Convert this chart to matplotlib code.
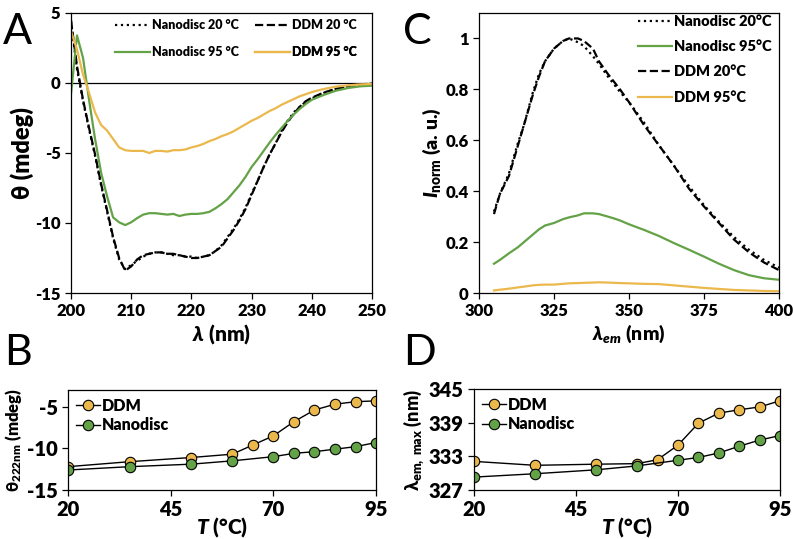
import matplotlib
matplotlib.use("Agg")
import matplotlib.pyplot as plt

plt.rcParams['font.family'] = ['Lato', 'DejaVu Sans']
plt.rcParams['font.weight'] = 'heavy'
plt.rcParams['axes.labelweight'] = 'heavy'
plt.rcParams['axes.unicode_minus'] = False
plt.rcParams['mathtext.fontset'] = 'custom'
plt.rcParams['mathtext.rm'] = 'Lato:heavy'
plt.rcParams['mathtext.bf'] = 'Lato:heavy'
plt.rcParams['mathtext.it'] = 'Lato:italic:heavy'
plt.rcParams['mathtext.default'] = 'bf'

GREEN = "#63a246"
GOLD = "#ebb84c"

# Panel A: CD spectra
wl_cd = [200, 201, 202, 203, 204, 205, 206, 207, 208, 209, 210, 211, 212, 213, 214, 215,
         216, 217, 218, 219, 220, 221, 222, 223, 224, 225, 226, 227, 228, 229, 230, 231,
         232, 233, 234, 235, 236, 237, 238, 239, 240, 242, 244, 246, 248, 250]
cd_nd20 = [4.4, 1.0, -1.3, -3.3, -5.2, -7.3, -9.2, -11.1, -12.6, -13.3, -13.0, -12.7, -12.4,
           -12.2, -12.1, -12.1, -12.2, -12.3, -12.3, -12.4, -12.4, -12.5, -12.4, -12.3, -12.0,
           -11.6, -11.0, -10.4, -9.7, -8.9, -7.9, -7.0, -6.0, -5.1, -4.3, -3.4, -2.7, -2.1,
           -1.7, -1.35, -1.1, -0.7, -0.43, -0.24, -0.1, -0.05]
cd_ddm20 = [4.5, 1.2, -1.2, -3.2, -5.1, -7.2, -9.1, -11.0, -12.5, -13.4, -13.1, -12.6, -12.3,
            -12.2, -12.1, -12.1, -12.2, -12.2, -12.3, -12.4, -12.5, -12.5, -12.4, -12.3, -12.0,
            -11.7, -11.1, -10.5, -9.8, -9.0, -8.0, -7.0, -6.0, -5.1, -4.3, -3.5, -2.8, -2.2,
            -1.7, -1.3, -1.05, -0.68, -0.42, -0.22, -0.1, -0.05]
cd_nd95 = [-0.8, 3.4, 1.8, -1.2, -4.0, -6.4, -8.1, -9.6, -9.95, -10.15, -9.95, -9.65, -9.4,
           -9.3, -9.3, -9.35, -9.4, -9.35, -9.5, -9.4, -9.35, -9.35, -9.3, -9.2, -8.95, -8.65,
           -8.3, -7.8, -7.3, -6.7, -6.0, -5.45, -4.85, -4.25, -3.7, -3.2, -2.7, -2.25, -1.85,
           -1.5, -1.2, -0.85, -0.55, -0.36, -0.24, -0.19]
cd_ddm95 = [3.7, 2.4, 0.6, -0.7, -2.1, -3.0, -3.4, -4.0, -4.6, -4.8, -4.85, -4.85, -4.85,
            -5.0, -4.85, -4.85, -4.9, -4.8, -4.8, -4.75, -4.6, -4.5, -4.35, -4.15, -4.0, -3.8,
            -3.65, -3.45, -3.2, -2.95, -2.7, -2.5, -2.25, -2.0, -1.8, -1.55, -1.35, -1.15,
            -0.95, -0.8, -0.65, -0.43, -0.26, -0.17, -0.1, -0.07]

# Panel C: fluorescence emission
wl_em = [305, 307, 310, 313, 315, 318, 320, 322, 325, 328, 330, 333, 335, 338, 340, 343,
         345, 347, 350, 355, 360, 365, 370, 375, 380, 385, 390, 395, 400]
fl_nd20 = [0.32, 0.39, 0.47, 0.59, 0.66, 0.79, 0.86, 0.91, 0.96, 0.99, 1.0, 0.985, 0.97,
           0.93, 0.90, 0.85, 0.82, 0.79, 0.75, 0.67, 0.58, 0.50, 0.42, 0.345, 0.28, 0.22,
           0.17, 0.13, 0.10]
fl_ddm20 = [0.31, 0.39, 0.46, 0.58, 0.66, 0.78, 0.85, 0.91, 0.96, 0.99, 1.0, 1.0, 0.99,
            0.96, 0.91, 0.86, 0.83, 0.80, 0.75, 0.66, 0.58, 0.50, 0.41, 0.34, 0.275, 0.21,
            0.16, 0.12, 0.09]
fl_nd95 = [0.115, 0.13, 0.156, 0.18, 0.20, 0.23, 0.25, 0.265, 0.275, 0.29, 0.297, 0.305,
           0.313, 0.313, 0.31, 0.30, 0.293, 0.285, 0.27, 0.248, 0.224, 0.196, 0.17, 0.143,
           0.115, 0.09, 0.07, 0.058, 0.052]
fl_ddm95 = [0.01, 0.013, 0.017, 0.022, 0.025, 0.03, 0.032, 0.033, 0.033, 0.036, 0.038,
            0.039, 0.04, 0.041, 0.042, 0.041, 0.04, 0.039, 0.038, 0.036, 0.035, 0.03, 0.025,
            0.02, 0.016, 0.012, 0.01, 0.008, 0.007]

# Panels B and D: thermal melts
temp_ddm = [20, 35, 50, 60, 65, 70, 75, 80, 85, 90, 95]
temp_nd = [20, 35, 50, 60, 70, 75, 80, 85, 90, 95]
theta_ddm = [-12.2, -11.6, -11.1, -10.7, -9.6, -8.5, -6.8, -5.4, -4.7, -4.4, -4.3]
theta_nd = [-12.6, -12.2, -11.9, -11.5, -11.0, -10.6, -10.4, -10.1, -9.8, -9.3]
lmax_ddm = [332.1, 331.4, 331.6, 331.7, 332.4, 335.0, 338.9, 340.7, 341.3, 341.8, 342.9]
lmax_nd = [329.3, 329.9, 330.6, 331.3, 332.3, 332.8, 333.6, 334.8, 335.9, 336.7]

ticks_A_x = [200, 210, 220, 230, 240, 250]
ticks_A_y = [-15, -10, -5, 0, 5]
ticks_C_x = [300, 325, 350, 375, 400]
ticks_C_y = [0, 0.2, 0.4, 0.6, 0.8, 1]
labels_C_y = ['0', '0.2', '0.4', '0.6', '0.8', '1']
ticks_T = [20, 45, 70, 95]
ticks_B_y = [-15, -10, -5]
ticks_D_y = [327, 333, 339, 345]

fig = plt.figure(figsize=(7.93, 5.39), dpi=100)
axA = fig.add_axes([0.0895, 0.4564, 0.3796, 0.5195])
axC = fig.add_axes([0.604, 0.4564, 0.3783, 0.5195])
axB = fig.add_axes([0.0858, 0.0909, 0.3884, 0.1855])
axD = fig.add_axes([0.5977, 0.0909, 0.3859, 0.1874])

for ax in (axA, axB, axC, axD):
    for s in ax.spines.values():
        s.set_linewidth(0.9)
    ax.tick_params(direction='out', length=4, width=0.9)

# --- A ---
axA.axhline(0, color='black', lw=0.9)
lA1, = axA.plot(wl_cd, cd_nd20, color='black', ls=':', lw=1.6, label='Nanodisc 20 °C')
lA2, = axA.plot(wl_cd, cd_ddm20, color='black', ls='--', lw=1.6, label='DDM 20 °C')
lA3, = axA.plot(wl_cd, cd_nd95, color=GREEN, lw=1.6, label='Nanodisc 95 °C')
lA4, = axA.plot(wl_cd, cd_ddm95, color=GOLD, lw=1.6, label='DDM 95 °C')
axA.set_xlim(200, 250)
axA.set_ylim(-15, 5)
axA.set_xticks(ticks_A_x, [str(t) for t in ticks_A_x], fontsize=12, fontweight='heavy')
axA.set_yticks(ticks_A_y, [str(t) for t in ticks_A_y], fontsize=12, fontweight='heavy')
axA.set_xlabel(r'$\mathit{\lambda}$ (nm)', fontsize=15, labelpad=2)
axA.set_ylabel('θ (mdeg)', fontsize=17, labelpad=1)

# 2x2 legend, one entry per legend box so the columns line up exactly
leg_kw = dict(fontsize=9, frameon=False, handlelength=2.8, handletextpad=0.15,
              borderaxespad=0.0, borderpad=0.0, loc='center left')
legend_slots = [(lA1, 0.146, 0.957), (lA2, 0.611, 0.957),
                (lA3, 0.146, 0.861), (lA4, 0.611, 0.861)]
for line, lx, ly in legend_slots:
    leg = axA.legend([line], [line.get_label()], bbox_to_anchor=(lx, ly), **leg_kw)
    axA.add_artist(leg)

# --- C ---
axC.plot(wl_em, fl_nd20, color='black', ls=':', lw=1.6, label='Nanodisc 20°C')
axC.plot(wl_em, fl_nd95, color=GREEN, lw=1.6, label='Nanodisc 95°C')
axC.plot(wl_em, fl_ddm20, color='black', ls='--', lw=1.6, label='DDM 20°C')
axC.plot(wl_em, fl_ddm95, color=GOLD, lw=1.6, label='DDM 95°C')
axC.set_xlim(300, 400)
axC.set_ylim(0, 1.1)
axC.set_xticks(ticks_C_x, [str(t) for t in ticks_C_x], fontsize=12, fontweight='heavy')
axC.set_yticks(ticks_C_y, labels_C_y, fontsize=12, fontweight='heavy')
axC.set_xlabel(r'$\mathit{\lambda_{em}}$ (nm)', fontsize=14, labelpad=2)
axC.set_ylabel(r'$\mathit{I}_{\mathrm{norm}}$ (a. u.)', fontsize=14, labelpad=2)
axC.legend(loc='upper right', bbox_to_anchor=(1.0, 1.02), fontsize=10.5, frameon=False,
           handlelength=2.3, handletextpad=0.15, borderaxespad=0.1, labelspacing=0.85)

# --- B ---
axB.plot(temp_ddm, theta_ddm, color='black', lw=1.0, marker='o', ms=7.5,
         mfc=GOLD, mec='black', mew=0.8, label='DDM')
axB.plot(temp_nd, theta_nd, color='black', lw=1.0, marker='o', ms=7.5,
         mfc=GREEN, mec='black', mew=0.8, label='Nanodisc')
axB.set_xlim(20, 95)
axB.set_ylim(-15, -3)
axB.set_xticks(ticks_T, [str(t) for t in ticks_T], fontsize=14.5, fontweight='heavy')
axB.set_yticks(ticks_B_y, [str(t) for t in ticks_B_y], fontsize=14.5, fontweight='heavy')
axB.set_xlabel(r'$\mathit{T}$ (°C)', fontsize=15, labelpad=-3)
axB.set_ylabel(r'θ$_{222nm}$ (mdeg)', fontsize=12, labelpad=2)
axB.legend(loc='upper left', fontsize=11.5, frameon=False, handlelength=1.5,
           handletextpad=0.1, borderaxespad=0.1, labelspacing=0.2)

# --- D ---
axD.plot(temp_ddm, lmax_ddm, color='black', lw=1.0, marker='o', ms=7.5,
         mfc=GOLD, mec='black', mew=0.8, label='DDM')
axD.plot(temp_nd, lmax_nd, color='black', lw=1.0, marker='o', ms=7.5,
         mfc=GREEN, mec='black', mew=0.8, label='Nanodisc')
axD.set_xlim(20, 95)
axD.set_ylim(327, 345)
axD.set_xticks(ticks_T, [str(t) for t in ticks_T], fontsize=14.5, fontweight='heavy')
axD.set_yticks(ticks_D_y, [str(t) for t in ticks_D_y], fontsize=14.5, fontweight='heavy')
axD.set_xlabel(r'$\mathit{T}$ (°C)', fontsize=15, labelpad=-3)
axD.set_ylabel(r'λ$_{em,\ max}$ (nm)', fontsize=13, labelpad=1)
axD.legend(loc='upper left', fontsize=11.5, frameon=False, handlelength=1.5,
           handletextpad=0.1, borderaxespad=0.1, labelspacing=0.2)

# panel letters
for letter, x, y in [('A', 0.003, 0.975), ('C', 0.508, 0.975), ('B', 0.005, 0.38), ('D', 0.508, 0.38)]:
    fig.text(x, y, letter, fontsize=31, fontweight='normal', va='top', ha='left')

fig.savefig('out.png', dpi=100)
